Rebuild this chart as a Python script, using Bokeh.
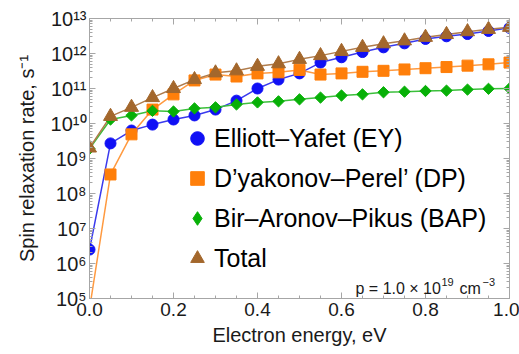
import math
from bokeh.plotting import figure
from bokeh.models import (Label, Legend, LegendItem, FixedTicker, LinearAxis,
                          LogAxis, PrintfTickFormatter, CustomJSTickFormatter)
from bokeh.embed import file_html
from bokeh.resources import INLINE

# ---------------- data ----------------
energy = [0.0, 0.05, 0.10, 0.15, 0.20, 0.25, 0.30, 0.35, 0.40, 0.45, 0.50,
          0.55, 0.60, 0.65, 0.70, 0.75, 0.80, 0.85, 0.90, 0.95, 1.00]

ey = [2.5e6, 2.7e9, 6.3e9, 9.3e9, 1.3e10, 1.7e10, 2.5e10, 4.5e10, 1.0e11, 1.8e11,
      2.7e11, 5.5e11, 7.8e11, 1.1e12, 1.5e12, 1.95e12, 2.6e12, 3.1e12, 3.6e12,
      4.4e12, 5.4e12]

# DP has no marker at E = 0; its curve starts below the axis there
dp_energy = [0.05, 0.10, 0.15, 0.20, 0.25, 0.30, 0.35, 0.40, 0.45, 0.50,
             0.55, 0.60, 0.65, 0.70, 0.75, 0.80, 0.85, 0.90, 0.95, 1.00]
dp = [3.5e8, 4.9e9, 2.5e10, 6.8e10, 1.7e11, 2.5e11, 2.2e11, 2.7e11, 2.9e11,
      3.4e11, 2.5e11, 2.7e11, 3.0e11, 3.2e11, 3.5e11, 3.8e11, 4.1e11, 4.5e11,
      4.9e11, 5.5e11]
dp_curve_at_zero = 5e4

bap = [1.9e9, 1.3e10, 1.7e10, 2.3e10, 2.2e10, 2.7e10, 2.9e10, 3.5e10, 4.0e10,
       4.3e10, 4.9e10, 5.5e10, 6.3e10, 6.8e10, 7.8e10, 8.1e10, 8.5e10, 8.7e10,
       9.3e10, 9.8e10, 1.0e11]

total = [2.0e9, 1.6e10, 2.9e10, 5.5e10, 1.0e11, 1.8e11, 2.8e11, 3.2e11, 4.3e11,
         5.1e11, 6.8e11, 8.7e11, 1.15e12, 1.5e12, 1.9e12, 2.3e12, 2.9e12,
         3.5e12, 4.2e12, 4.9e12, 5.6e12]

series_names = ["Elliott\u2013Yafet (EY)", "D\u2019yakonov\u2013Perel\u2019 (DP)",
                "Bir\u2013Aronov\u2013Pikus (BAP)", "Total"]

x_ticks = [0.0, 0.2, 0.4, 0.6, 0.8, 1.0]
x_minor = [0.05 * i for i in range(21)]
y_exponents = [5, 6, 7, 8, 9, 10, 11, 12, 13]
y_ticks = [10.0 ** k for k in y_exponents]
y_minor = [m * 10.0 ** k for k in y_exponents[:-1] for m in range(2, 10)]

SUP = str.maketrans("0123456789-", "\u2070\u00b9\u00b2\u00b3\u2074\u2075\u2076\u2077\u2078\u2079\u207b")
y_tick_labels = {10.0 ** k: "10" + str(k).translate(SUP) for k in y_exponents}

annotation_parts = ["p = 1.0 \u00d7 10", "19", "cm", "\u22123"]
x_title = "Electron energy, eV"
y_title = "Spin relaxation rate, s\u207b\u00b9"

# ---------------- styling ----------------
FONT = "Liberation Sans"
AX = "#a6a6a6"
TXT = "#1a1a1a"
c_ey, c_dp, c_bap, c_tot = "#1010f5", "#ff7f0a", "#07b007", "#a3672c"
l_ey, l_dp, l_bap, l_tot = "#3a3aee", "#ff9a40", "#3cbf3c", "#b07c4c"

p = figure(width=519, height=354, y_axis_type="log", x_range=(0, 1),
           y_range=(1e5, 1e13), output_backend="svg", toolbar_location=None,
           min_border_left=89, min_border_right=10, min_border_top=18,
           min_border_bottom=56)
p.xgrid.visible = False
p.ygrid.visible = False
p.outline_line_color = AX
p.background_fill_color = "white"

blank = CustomJSTickFormatter(code="return ''")


def style_axis(ax, labels=True):
    ax.axis_line_color = AX
    ax.major_tick_line_color = AX
    ax.minor_tick_line_color = AX
    ax.major_tick_in = 6
    ax.major_tick_out = 0
    ax.minor_tick_in = 3
    ax.minor_tick_out = 0
    ax.major_label_text_font = FONT
    ax.major_label_text_font_size = "19px"
    ax.major_label_text_color = TXT
    ax.axis_label_text_font = FONT
    ax.axis_label_text_font_size = "20px"
    ax.axis_label_text_font_style = "normal"
    ax.axis_label_text_color = TXT
    if labels:
        ax.major_label_standoff = 4
    else:
        ax.formatter = blank
        ax.major_label_standoff = 0


# bottom axis
p.xaxis.ticker = FixedTicker(ticks=x_ticks, minor_ticks=x_minor)
p.xaxis.formatter = PrintfTickFormatter(format="%.1f")
style_axis(p.xaxis[0])
p.xaxis.axis_label = x_title
p.xaxis.axis_label_standoff = 5

# left axis
p.yaxis.ticker = FixedTicker(ticks=y_ticks, minor_ticks=y_minor)
style_axis(p.yaxis[0])
p.yaxis.major_label_overrides = y_tick_labels
p.yaxis.major_label_text_font_size = "20px"
p.yaxis.major_label_standoff = 3
p.yaxis.axis_label = y_title
p.yaxis.axis_label_standoff = 10

# frame ticks on top and right
top_ax = LinearAxis(ticker=FixedTicker(ticks=x_ticks, minor_ticks=x_minor))
style_axis(top_ax, labels=False)
p.add_layout(top_ax, "above")
right_ax = LogAxis(ticker=FixedTicker(ticks=y_ticks, minor_ticks=y_minor))
style_axis(right_ax, labels=False)
p.add_layout(right_ax, "right")

# ---------------- curves ----------------
p.line(energy, ey, line_color=l_ey, line_width=1.5)
p.line([0.0] + dp_energy, [dp_curve_at_zero] + dp, line_color=l_dp, line_width=1.5)
p.line(energy, bap, line_color=l_bap, line_width=1.5)
p.line(energy, total, line_color=l_tot, line_width=1.5)

r_ey = p.scatter(energy, ey, marker="circle", size=11, fill_color=c_ey, line_color=c_ey)
r_dp = p.scatter(dp_energy, dp, marker="square", size=11, fill_color=c_dp, line_color=c_dp)
p.scatter(energy, bap, marker="square", angle=math.pi / 4, size=8, fill_color=c_bap,
          line_color=c_bap)
r_tot = p.scatter(energy, total, marker="triangle", size=14, fill_color=c_tot,
                  line_color=c_tot)
# hidden twin of the BAP series, used only for its legend swatch (diamond shape)
r_bap_leg = p.scatter(energy, bap, marker="diamond", size=14, fill_color=c_bap,
                      line_color=c_bap, visible=False)

legend = Legend(items=[LegendItem(label=series_names[0], renderers=[r_ey]),
                       LegendItem(label=series_names[1], renderers=[r_dp]),
                       LegendItem(label=series_names[2], renderers=[r_bap_leg]),
                       LegendItem(label=series_names[3], renderers=[r_tot])],
                location=(91, 22), label_text_font=FONT, label_text_font_size="25px",
                label_text_color="black", glyph_width=34, glyph_height=36,
                label_standoff=0, spacing=4, padding=0, margin=0,
                border_line_color=None, background_fill_alpha=0)
p.add_layout(legend)

# ---------------- concentration annotation ----------------
ann_pos = [(266, 10, "16px"), (352, 17, "11px"), (370, 10, "16px"), (393, 17, "11px")]
for txt, (ax_, ay_, fs) in zip(annotation_parts, ann_pos):
    p.add_layout(Label(x=ax_, y=ay_, x_units="screen", y_units="screen", text=txt,
                       text_align="left", text_baseline="alphabetic", text_font=FONT,
                       text_font_size=fs, text_color=TXT))

open("out.html", "w").write(file_html(p, INLINE))
